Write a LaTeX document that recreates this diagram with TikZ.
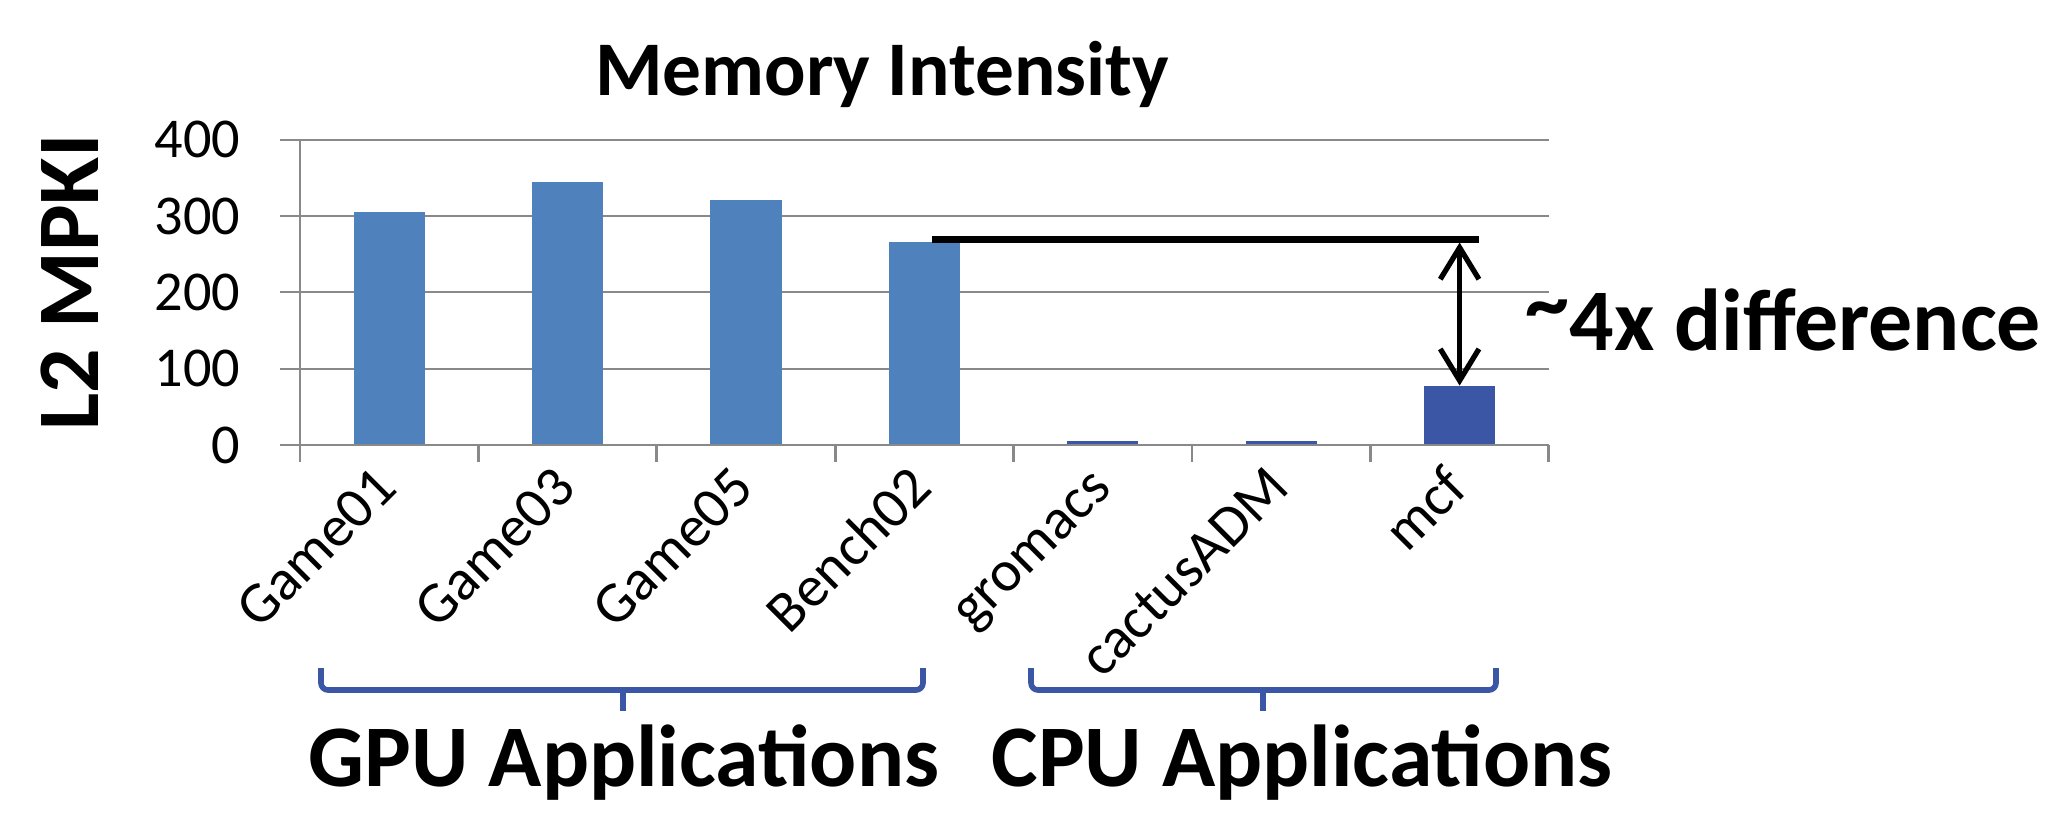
\documentclass[tikz,border=0pt]{standalone}
\usepackage{fontspec}
\setmainfont{Carlito}
\usepackage{xcolor}
\usetikzlibrary{arrows.meta}

\definecolor{gpublue}{HTML}{4F81BD}
\definecolor{cpublue}{HTML}{3A56A4}
\definecolor{gridgray}{HTML}{898989}

\begin{document}
\begin{tikzpicture}[
  gpubar/.style={fill=gpublue, inner sep=0pt, minimum width=0.7136cm, anchor=south},
  cpubar/.style={fill=cpublue, inner sep=0pt, minimum width=0.7136cm, anchor=south},
  gridline/.style={draw=gridgray, line width=0.6pt},
  axisline/.style={draw=gridgray, line width=0.8pt},
  ticklabel/.style={anchor=east, inner sep=0pt, font=\fontsize{16}{16}\selectfont},
  catlabel/.style={anchor=base east, rotate=45, inner sep=0pt, font=\fontsize{16.5}{16.5}\selectfont},
  bigtext/.style={inner sep=0pt, font=\fontsize{25}{25}\selectfont\bfseries},
  brace/.style={draw=cpublue, line width=1.6pt, rounded corners=2pt},
  arr/.style={{Straight Barb[length=9pt,width=11pt]}-{Straight Barb[length=9pt,width=11pt]},
              line width=1.5pt, line cap=round}
]
\useasboundingbox (0,0) rectangle (20.53,8.13);

% Title and axis label
\node[inner sep=0pt, anchor=base, font=\fontsize{22}{22}\selectfont\bfseries] (title)
  at (8.82,7.18) {Memory Intensity};
\node[bigtext, rotate=90, anchor=base] (ylabel) at (0.98,5.31) {L2 MPKI};

\begin{scope}[shift={(3.00,3.68)}, x=1.784cm, y=0.007625cm]
  % Grid and axes
  \draw[gridline] (-0.112,100) -- (7,100);
  \draw[gridline] (-0.112,200) -- (7,200);
  \draw[gridline] (-0.112,300) -- (7,300);
  \draw[gridline] (-0.112,400) -- (7,400);
  \draw[axisline] (0,400) -- (0,-22) (-0.112,0) -- (7,0);
  \draw[axisline] (1,0) -- (1,-22) (2,0) -- (2,-22) (3,0) -- (3,-22) (4,0) -- (4,-22)
                  (5,0) -- (5,-22) (6,0) -- (6,-22) (7,0) -- (7,-22);

  \node[ticklabel] (t0) at (-0.331,0) {0};
  \node[ticklabel] (t100) at (-0.331,100) {100};
  \node[ticklabel] (t200) at (-0.331,200) {200};
  \node[ticklabel] (t300) at (-0.331,300) {300};
  \node[ticklabel] (t400) at (-0.331,400) {400};

  % GPU applications
  \node[gpubar, minimum height=2.326cm] (game01) at (0.5,0) {};
  \node[gpubar, minimum height=2.623cm] (game03) at (1.5,0) {};
  \node[gpubar, minimum height=2.448cm] (game05) at (2.5,0) {};
  \node[gpubar, minimum height=2.028cm] (bench02) at (3.5,0) {};

  % CPU applications
  \node[cpubar, minimum height=0.03cm] (gromacs) at (4.5,0) {};
  \node[cpubar, minimum height=0.03cm] (cactus) at (5.5,0) {};
  \node[cpubar, minimum height=0.58cm] (mcf) at (6.5,0) {};

  % Category labels
  \node[catlabel] (l1) at (0.56,-59) {Game01};
  \node[catlabel] (l2) at (1.56,-59) {Game03};
  \node[catlabel] (l3) at (2.56,-59) {Game05};
  \node[catlabel] (l4) at (3.56,-59) {Bench02};
  \node[catlabel] (l5) at (4.56,-59) {gromacs};
  \node[catlabel] (l6) at (5.56,-59) {cactusADM};
  \node[catlabel] (l7) at (6.56,-59) {mcf};

  % Gap between Bench02 and mcf
  \coordinate (gapleft) at (3.54,270);
  \coordinate (gapright) at (6.61,270);
  \draw[line width=2pt] (gapleft) -- (gapright);
  \draw[arr] ([yshift=-1pt]mcf.north |- gapleft) -- (mcf.north);
\end{scope}

\node[bigtext, anchor=base west] (diff) at (15.25,4.63)
  {\raisebox{0.2em}{\textasciitilde}4x difference};

% Group braces
\draw[brace] (3.21,1.45) -- (3.21,1.23) -- (9.23,1.23) -- (9.23,1.45);
\draw[brace] (6.23,1.23) -- (6.23,1.02);
\draw[brace] (10.31,1.45) -- (10.31,1.23) -- (14.96,1.23) -- (14.96,1.45);
\draw[brace] (12.63,1.23) -- (12.63,1.02);

\node[bigtext, anchor=base] (gpu) at (6.24,0.27) {GPU Applications};
\node[bigtext, anchor=base] (cpu) at (13.02,0.27) {CPU Applications};
\end{tikzpicture}
\end{document}
